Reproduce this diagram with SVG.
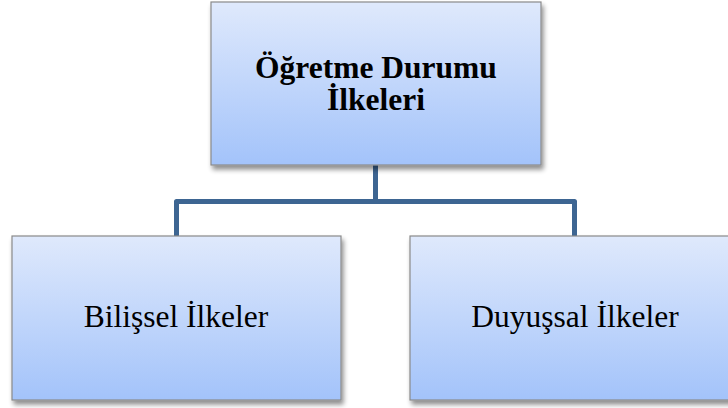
<svg xmlns="http://www.w3.org/2000/svg" width="728" height="408" viewBox="0 0 728 408">
<style>
.box{stroke:#8a8a8a;stroke-width:1.2;fill:url(#g)}
.t{font-family:"Liberation Serif","Times New Roman",serif;fill:#000;text-anchor:middle}
.conn{fill:none;stroke:#3d6592;stroke-width:5;stroke-linejoin:round}
</style>
<defs>
<linearGradient id="g" x1="0" y1="0" x2="0" y2="1">
<stop offset="0" stop-color="#dfe9fc"/>
<stop offset="1" stop-color="#a3c3fa"/>
</linearGradient>
<filter id="sh" x="-10%" y="-10%" width="125%" height="125%">
<feGaussianBlur in="SourceAlpha" stdDeviation="2.5"/>
<feOffset dx="2" dy="4" result="b"/>
<feComponentTransfer><feFuncA type="linear" slope="0.45"/></feComponentTransfer>
<feMerge><feMergeNode/><feMergeNode in="SourceGraphic"/></feMerge>
</filter>
</defs>
<rect width="728" height="408" fill="#fff"/>
<g id="connectors">
<path class="conn" d="M375.5 165 V201.5 H176.5 V236 M375.5 201.5 H574.5 V236"/>
</g>
<g id="node-top">
<rect class="box" x="211" y="2" width="330" height="163" filter="url(#sh)"/>
<text class="t" x="376" y="78" font-size="31.5" font-weight="bold">Öğretme Durumu</text>
<text class="t" x="376" y="110" font-size="31.5" font-weight="bold">İlkeleri</text>
</g>
<g id="node-bilissel">
<rect class="box" x="12" y="236" width="329" height="164" filter="url(#sh)"/>
<text class="t" x="176" y="327" font-size="31.5">Bilişsel İlkeler</text>
</g>
<g id="node-duyussal">
<rect class="box" x="410" y="236" width="330" height="164" filter="url(#sh)"/>
<text class="t" x="575" y="327" font-size="31.5">Duyuşsal İlkeler</text>
</g>
</svg>
